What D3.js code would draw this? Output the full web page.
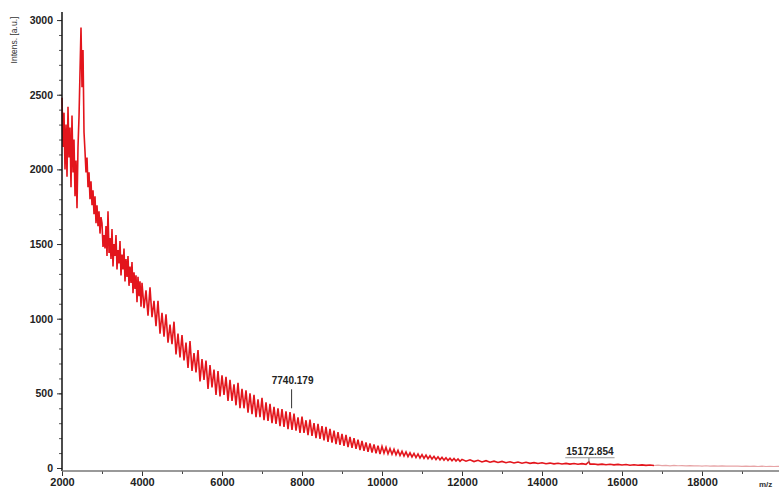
<!DOCTYPE html>
<html>
<head>
<meta charset="utf-8">
<script src="https://cdn.jsdelivr.net/npm/d3@7"></script>
<style>
  html, body { margin: 0; padding: 0; background: #fff; }
  svg { display: block; }
  text { font-family: "Liberation Sans", Arial, sans-serif; }
</style>
</head>
<body>
<div id="chart"></div>
<script>
var WIDTH = 779;
var HEIGHT = 490;

// [m/z, intensity]
var lowMass = [
	[2000, 2480], [2025, 2150], [2050, 2380], [2075, 2000], [2100, 2300], [2125, 1950],
	[2150, 2420], [2175, 2080], [2200, 2280], [2225, 1880], [2250, 2360], [2275, 1980],
	[2300, 2200], [2325, 1820], [2350, 2060], [2375, 1740], [2400, 2150], [2425, 2350],
	[2450, 2650], [2475, 2950], [2500, 2550], [2525, 2800], [2550, 2250], [2575, 2120],
	[2600, 1980], [2625, 2080], [2650, 1880], [2675, 1980], [2700, 1800], [2725, 1920],
	[2750, 1760], [2775, 1860], [2800, 1700], [2825, 1820], [2850, 1640], [2875, 1760],
	[2900, 1620], [2925, 1720], [2950, 1570], [2975, 1680],
	[3000, 1640], [3025, 1480], [3050, 1560], [3075, 1470], [3100, 1620], [3125, 1420],
	[3150, 1720], [3175, 1440], [3200, 1540], [3225, 1400], [3250, 1600], [3275, 1350],
	[3300, 1500], [3325, 1420], [3350, 1560], [3375, 1330], [3400, 1460], [3425, 1370],
	[3450, 1520], [3475, 1290], [3500, 1430], [3525, 1330], [3550, 1470], [3575, 1250],
	[3600, 1400], [3625, 1280], [3650, 1420], [3675, 1220], [3700, 1350], [3725, 1240],
	[3750, 1380], [3775, 1170], [3800, 1310], [3825, 1200], [3850, 1290], [3875, 1110],
	[3900, 1280], [3925, 1150], [3950, 1250], [3975, 1080]
];

var midMass = [
	[4000, 1240], [4050, 1070], [4100, 1190], [4150, 1020], [4200, 1210], [4250, 1010],
	[4300, 1120], [4350, 950], [4400, 1120], [4450, 900], [4500, 1040], [4550, 880],
	[4600, 1030], [4650, 840], [4700, 960], [4750, 830], [4800, 980], [4850, 760],
	[4900, 900], [4950, 740], [5000, 890], [5050, 720], [5100, 840], [5150, 670],
	[5200, 850], [5250, 650], [5300, 770], [5350, 640], [5400, 790], [5450, 580],
	[5500, 730], [5550, 590], [5600, 720], [5650, 530], [5700, 690], [5750, 540],
	[5800, 660], [5850, 490], [5900, 650], [5950, 480],
	[6000, 620], [6050, 490], [6100, 610], [6150, 450], [6200, 590], [6250, 450],
	[6300, 560], [6350, 420], [6400, 570], [6450, 400], [6500, 530], [6550, 400],
	[6600, 520], [6650, 370], [6700, 500], [6750, 360], [6800, 490], [6850, 340],
	[6900, 460], [6950, 340], [7000, 470], [7050, 320], [7100, 440], [7150, 315],
	[7200, 430], [7250, 300], [7300, 410], [7350, 295], [7400, 400], [7450, 280],
	[7500, 395], [7550, 275], [7600, 380], [7650, 260], [7700, 375], [7750, 255],
	[7800, 365], [7850, 250], [7900, 340], [7950, 235]
];

var highMass = [
	[8000, 345], [8050, 235], [8100, 320], [8150, 220], [8200, 325], [8250, 215],
	[8300, 300], [8350, 200], [8400, 295], [8450, 195], [8500, 280], [8550, 185],
	[8600, 275], [8650, 175], [8700, 262], [8750, 170], [8800, 250], [8850, 160],
	[8900, 240], [8950, 155], [9000, 228], [9050, 148], [9100, 222], [9150, 140],
	[9200, 208], [9250, 135], [9300, 200], [9350, 128], [9400, 190], [9450, 120],
	[9500, 182], [9550, 115], [9600, 172], [9650, 108], [9700, 165], [9750, 104],
	[9800, 158], [9850, 98], [9900, 150], [9950, 94],
	[10000, 145], [10050, 100], [10100, 138], [10150, 95], [10200, 130], [10250, 92],
	[10300, 125], [10350, 88], [10400, 118], [10450, 84], [10500, 112], [10550, 80],
	[10600, 108], [10650, 76], [10700, 102], [10750, 74], [10800, 98], [10850, 70],
	[10900, 94], [10950, 67], [11000, 90], [11050, 64], [11100, 86], [11150, 62],
	[11200, 82], [11250, 60], [11300, 78], [11350, 57], [11400, 75], [11450, 55],
	[11500, 72], [11550, 53], [11600, 69], [11650, 51], [11700, 66], [11750, 49],
	[11800, 64], [11850, 47], [11900, 61], [11950, 45],
	[12000, 58], [12100, 46], [12200, 55], [12300, 43], [12400, 52], [12500, 41],
	[12600, 49], [12700, 39], [12800, 46], [12900, 37], [13000, 44], [13100, 35],
	[13200, 42], [13300, 34], [13400, 40], [13500, 32], [13600, 38], [13700, 31],
	[13800, 36], [13900, 30], [14000, 35], [14100, 29], [14200, 33], [14300, 28],
	[14400, 32], [14500, 27], [14600, 31], [14700, 26], [14800, 30], [14900, 25],
	[15000, 29], [15100, 25], [15172, 42], [15200, 26], [15300, 27], [15400, 23],
	[15500, 26], [15600, 22], [15700, 25], [15800, 21], [15900, 24], [16000, 20],
	[16100, 23], [16200, 19], [16300, 22], [16400, 19], [16500, 21], [16600, 18],
	[16700, 20], [16800, 17]
];

var tailMass = [
	[16800, 17], [16900, 19], [17000, 16], [17100, 18], [17200, 15], [17300, 17],
	[17400, 15], [17500, 16], [17600, 14], [17700, 16], [17800, 14], [17900, 15],
	[18000, 13], [18100, 15], [18200, 13], [18300, 14], [18400, 12], [18500, 14],
	[18600, 12], [18700, 13], [18800, 12], [18900, 13], [19000, 11], [19100, 12],
	[19200, 11], [19300, 12], [19400, 10], [19500, 12], [19600, 10], [19700, 11],
	[19800, 10], [19900, 11], [20000, 10]
];

var peakLabels = [
	{ mz: 7740.179, text: "7740.179", intensity: 400 },
	{ mz: 15172.854, text: "15172.854", intensity: 42 }
];

var xTickValues = [2000, 4000, 6000, 8000, 10000, 12000, 14000, 16000, 18000];
var yTickValues = [0, 500, 1000, 1500, 2000, 2500, 3000];

var svg = d3.select("#chart").append("svg")
	.attr("width", WIDTH).attr("height", HEIGHT);

// scales
var x = d3.scaleLinear().domain([2000, 20000]).range([62, 782]);
var y = d3.scaleLinear().domain([-20, 3054]).range([471, 12]);

// spectrum
var line = d3.line().x(d => x(d[0])).y(d => y(d[1]));
var mainTrace = lowMass.concat(midMass, highMass);

svg.append("path")
	.datum(mainTrace)
	.attr("fill", "none")
	.attr("stroke", "#e3151c")
	.attr("stroke-width", 1.6)
	.attr("d", line);

svg.append("path")
	.datum(tailMass)
	.attr("fill", "none")
	.attr("stroke", "#e7a4a6")
	.attr("stroke-width", 1.2)
	.attr("d", line);

// axes
var yMinor = svg.append("g")
	.attr("transform", "translate(62,0)")
	.call(d3.axisLeft(y).tickValues(d3.range(0, 3001, 100)).tickSize(3).tickFormat(""));
yMinor.selectAll(".tick line").attr("stroke", "#555");
yMinor.select(".domain").remove();

var yMajor = svg.append("g")
	.attr("transform", "translate(62,0)")
	.call(d3.axisLeft(y).tickValues(yTickValues).tickSize(5).tickPadding(4).tickFormat(d3.format("d")));
yMajor.select(".domain").remove();
yMajor.selectAll(".tick line").attr("stroke", "#333");
yMajor.selectAll(".tick text")
	.attr("font-size", 10.5).attr("font-weight", "bold").attr("fill", "#222")
	.style("font-family", "'Liberation Sans', Arial, sans-serif");

var xMinor = svg.append("g")
	.attr("transform", "translate(0,471)")
	.call(d3.axisBottom(x).tickValues(d3.range(3000, 20000, 2000)).tickSize(3).tickFormat(""));
xMinor.select(".domain").remove();
xMinor.selectAll(".tick line").attr("stroke", "#444");

var xMajor = svg.append("g")
	.attr("transform", "translate(0,471)")
	.call(d3.axisBottom(x).tickValues(xTickValues).tickSize(5).tickPadding(2).tickFormat(d3.format("d")));
xMajor.select(".domain").remove();
xMajor.selectAll(".tick line").attr("stroke", "#333");
xMajor.selectAll(".tick text")
	.attr("font-size", 11).attr("font-weight", "bold").attr("fill", "#222")
	.style("font-family", "'Liberation Sans', Arial, sans-serif");

// axis lines
svg.append("line")
	.attr("x1", 62).attr("x2", 62).attr("y1", 12).attr("y2", 471)
	.attr("stroke", "#111").attr("stroke-width", 1.5);
svg.append("line")
	.attr("x1", 62).attr("x2", WIDTH).attr("y1", 471).attr("y2", 471)
	.attr("stroke", "#777").attr("stroke-width", 1.5);

// axis titles
svg.append("text")
	.attr("transform", "translate(17,40) rotate(-90)")
	.attr("text-anchor", "middle")
	.attr("font-size", 8.5)
	.attr("fill", "#333")
	.text("Intens. [a.u.]");

svg.append("text")
	.attr("x", 759).attr("y", 487)
	.attr("font-size", 8)
	.attr("font-weight", "bold")
	.attr("fill", "#333")
	.text("m/z");

// peak annotations
peakLabels.forEach(function(p, i) {
	var px = x(p.mz);
	var py = y(p.intensity);
	var g = svg.append("g");
	var txt = g.append("text")
		.attr("x", px + 1)
		.attr("y", i === 0 ? py - 24 : py - 7)
		.attr("text-anchor", "middle")
		.attr("font-size", 10)
		.attr("font-weight", "bold")
		.attr("fill", "#222")
		.text(p.text);
	if (i === 0) {
		g.append("line")
			.attr("x1", px).attr("x2", px).attr("y1", py - 19).attr("y2", py)
			.attr("stroke", "#333").attr("stroke-width", 1);
	} else {
		var w = txt.node().getComputedTextLength();
		g.append("line")
			.attr("x1", px - w / 2).attr("x2", px + w / 2 + 2)
			.attr("y1", py - 4).attr("y2", py - 4)
			.attr("stroke", "#999").attr("stroke-width", 1);
		g.append("line")
			.attr("x1", px).attr("x2", px).attr("y1", py - 4).attr("y2", py + 1)
			.attr("stroke", "#777").attr("stroke-width", 1);
	}
});
</script>
</body>
</html>
